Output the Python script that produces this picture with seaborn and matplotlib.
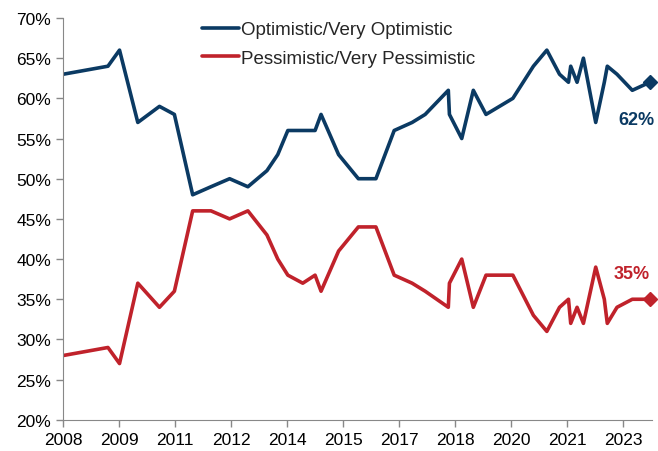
import pandas as pd
import matplotlib.pyplot as plt
import seaborn as sns
from matplotlib.ticker import FuncFormatter

# Survey dates (fractional years) and shares
dates = [2008.0, 2009.2, 2009.51, 2010.0, 2010.58, 2010.98, 2011.47, 2011.96, 2012.46, 2012.95,
         2013.46, 2013.75, 2014.02, 2014.42, 2014.75, 2014.91, 2015.38, 2015.91, 2016.38, 2016.87,
         2017.35, 2017.70, 2018.32, 2018.35, 2018.68, 2018.99, 2019.33, 2020.05, 2020.60, 2020.96,
         2021.30, 2021.54, 2021.60, 2021.77, 2021.94, 2022.27, 2022.50, 2022.58, 2022.84, 2023.25,
         2023.72]
optimistic = [63, 64, 66, 57, 59, 58, 48, 49, 50, 49,
              51, 53, 56, 56, 56, 58, 53, 50, 50, 56,
              57, 58, 61, 58, 55, 61, 58, 60, 64, 66,
              63, 62, 64, 62, 65, 57, 62, 64, 63, 61,
              62]
pessimistic = [28, 29, 27, 37, 34, 36, 46, 46, 45, 46,
               43, 40, 38, 37, 38, 36, 41, 44, 44, 38,
               37, 36, 34, 37, 40, 34, 38, 38, 33, 31,
               34, 35, 32, 34, 32, 39, 35, 32, 34, 35,
               35]
tick_years = [2008.0, 2009.5, 2011.0, 2012.5, 2014.0, 2015.5, 2017.0, 2018.5, 2020.0, 2021.5, 2023.0]

NAVY = "#0b3a63"
RED = "#c0222b"

df = pd.DataFrame({
    "date": dates * 2,
    "value": optimistic + pessimistic,
    "series": ["Optimistic/Very Optimistic"] * len(dates) + ["Pessimistic/Very Pessimistic"] * len(dates),
})

sns.set_style("ticks")
plt.rcParams["font.family"] = ["Liberation Sans", "DejaVu Sans"]

fig, ax = plt.subplots(figsize=(6.58, 4.52), dpi=100)
fig.subplots_adjust(left=0.096, right=0.991, top=0.958, bottom=0.069)

sns.lineplot(data=df, x="date", y="value", hue="series", palette=[NAVY, RED],
             linewidth=2.6, ax=ax, sort=False)

# end markers + labels
ax.plot(dates[-1], optimistic[-1], marker="D", color=NAVY, markersize=7.5, clip_on=False, zorder=5)
ax.plot(dates[-1], pessimistic[-1], marker="D", color=RED, markersize=7.5, clip_on=False, zorder=5)
ax.annotate(f"{optimistic[-1]}%", (dates[-1], optimistic[-1]), xytext=(-10, -27),
            textcoords="offset points", ha="center", va="center",
            color=NAVY, fontsize=13, fontweight="bold")
ax.annotate(f"{pessimistic[-1]}%", (dates[-1], pessimistic[-1]), xytext=(-13, 18.5),
            textcoords="offset points", ha="center", va="center",
            color=RED, fontsize=13, fontweight="bold")

ax.set_xlim(2008.0, 2023.78)
ax.set_ylim(20, 70)
ax.set_xticks(tick_years)
ax.xaxis.set_major_formatter(FuncFormatter(lambda v, p: f"{int(v)}"))
ax.set_yticks(range(20, 71, 5))
ax.yaxis.set_major_formatter(FuncFormatter(lambda v, p: f"{int(v)}%"))
ax.set_xlabel("")
ax.set_ylabel("")
ax.tick_params(labelsize=12.5, colors="#888888", labelcolor="black", length=5, width=1)

sns.despine(ax=ax)
for s in ["left", "bottom"]:
    ax.spines[s].set_color("#888888")

ax.legend(loc="upper left", bbox_to_anchor=(0.235, 0.992), frameon=False, fontsize=13.5,
          handlelength=2.0, handletextpad=0.1, borderaxespad=0, borderpad=0, labelspacing=0.6)

plt.savefig("out.png", dpi=100)
